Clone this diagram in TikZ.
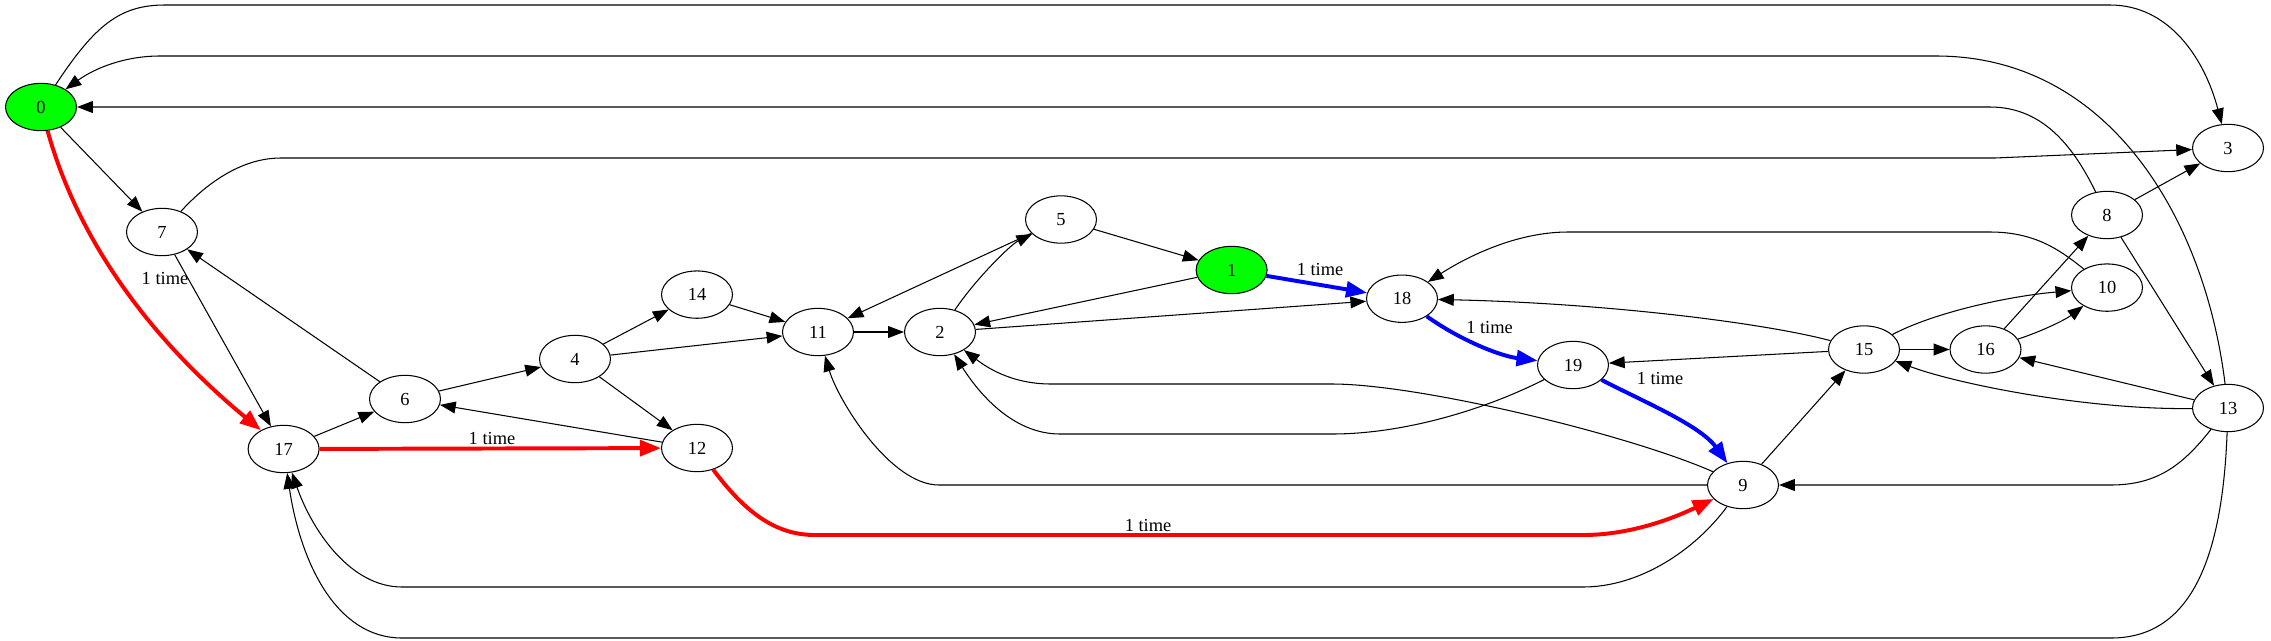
\documentclass[tikz,border=0pt]{standalone}
\usepackage{fontspec}
\setmainfont{Liberation Serif}
\usetikzlibrary{shapes.geometric,arrows.meta}
\begin{document}
\begin{tikzpicture}[x=0.02673cm, y=-0.02673cm,
        every node/.style={font=\fontsize{14}{16}\selectfont},
        nd/.style={ellipse, draw, line width=0.8pt, minimum width=54pt, minimum height=36pt, inner sep=0pt},
        srcnode/.style={nd, fill=green},
        link/.style={-{Triangle[length=12pt,width=9pt]}, line width=0.8pt},
        route/.style={-{Triangle[length=16pt,width=12pt]}, line width=3pt},
        lbl/.style={inner sep=1pt}]
        \useasboundingbox (0,0) rectangle (2271,640);
        % Nodes
        \foreach \n/\x/\y in {2/940/332, 3/2228/148, 4/575/359, 5/1061/219.5, 6/405/399,
            7/162/232, 8/2107/215, 9/1743/485, 10/2107/287.6, 11/818/332, 12/697/448,
            13/2228/408, 14/697/294.6, 15/1864/349.5, 16/1985.5/349.5, 17/283.6/449,
            18/1402/298.7, 19/1573/365} {
            \node[nd] (n\n) at (\x,\y) {\n};
        }
        \node[srcnode] (n0) at (41,107) {0};
        \node[srcnode] (n1) at (1231.6,270) {1};
        % Straight edges
        \foreach \a/\b in {0/7, 7/17, 6/7, 17/6, 6/4, 4/14, 4/11, 4/12, 14/11, 12/6, 11/2,
            5/11, 5/1, 1/2, 2/18, 15/19, 15/16, 16/8, 8/3, 8/13, 13/16, 9/15} {
            \draw[link] (n\a) -- (n\b);
        }
        \draw[link] (n2) .. controls (975,280) and (1010,245) .. (n5);
        % Long edges round the top
        \draw[link] (n0) .. controls (95,25) and (120,5) .. (165,5) -- (2110,5) .. controls (2170,5) and (2205,60) .. (n3);
        \draw[link] (n13) .. controls (2205,220) and (2110,56) .. (1936,56) -- (160,56) .. controls (125,56) and (95,68) .. (n0);
        \draw[link] (n8) .. controls (2075,150) and (2045,107) .. (1990,107) -- (n0);
        \draw[link] (n7) .. controls (205,185) and (240,158) .. (281,158) -- (1995,158) -- (n3);
        \draw[link] (n10) .. controls (2060,250) and (2035,232) .. (1990,232) -- (1568,232) .. controls (1515,232) and (1465,258) .. (n18);
        % Curved edges in the middle
        \draw[link] (n15) .. controls (1760,322) and (1600,303) .. (n18);
        \draw[link] (n15) .. controls (1935,312) and (2010,296) .. (n10);
        \draw[link] (n16) .. controls (2040,332) and (2065,320) .. (n10);
        \draw[link] (n13) .. controls (2090,410) and (1960,385) .. (n15);
        \draw[link] (n9) .. controls (1630,435) and (1420,384) .. (1332,384) -- (1051,384) .. controls (1010,384) and (985,366) .. (n2);
        \draw[link] (n19) .. controls (1480,412) and (1400,434) .. (1332,434) -- (1060,434) .. controls (1012,434) and (978,392) .. (n2);
        % Long edges round the bottom
        \draw[link] (n9) -- (939,485) .. controls (890,485) and (838,400) .. (n11);
        \draw[link] (n13) .. controls (2185,462) and (2160,485) .. (2111,485) -- (n9);
        \draw[link] (n9) .. controls (1695,550) and (1640,587) .. (1583,587) -- (402,587) .. controls (350,587) and (312,530) .. (n17);
        \draw[link] (n13) .. controls (2222,570) and (2185,638) .. (2111,638) -- (402,638) .. controls (335,638) and (300,560) .. (n17);
        % Red path
        \draw[route, red] (n0) .. controls (75,230) and (140,330) .. (n17);
        \draw[route, red] (n17) -- (n12);
        \draw[route, red] (n12) .. controls (745,512) and (775,535) .. (815,535) -- (1583,535) .. controls (1635,535) and (1680,515) .. (n9);
        \node[lbl] (t1) at (165,278) {1 time};
        \node[lbl] (t2) at (492,438) {1 time};
        \node[lbl] (t3) at (1148,525) {1 time};
        % Blue path
        \draw[route, blue] (n1) -- (n18);
        \draw[route, blue] (n18) .. controls (1460,340) and (1500,356) .. (n19);
        \draw[route, blue] (n19) .. controls (1640,400) and (1700,425) .. (n9);
        \node[lbl] (t4) at (1320,269.5) {1 time};
        \node[lbl] (t5) at (1489.5,327) {1 time};
        \node[lbl] (t6) at (1660,378.7) {1 time};
    \end{tikzpicture}
\end{document}
